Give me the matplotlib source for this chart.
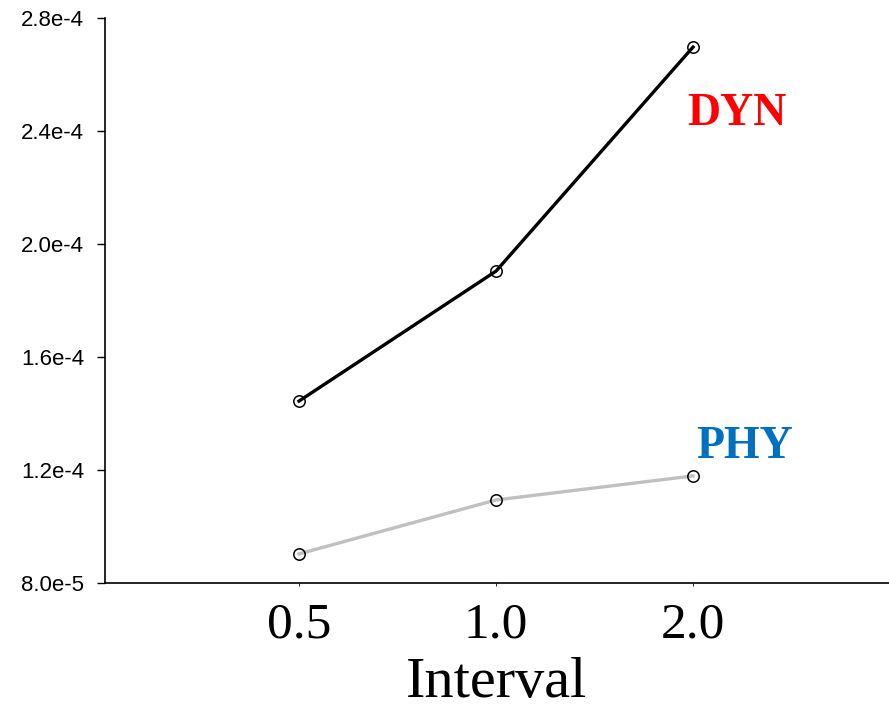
import matplotlib
matplotlib.use("Agg")
import matplotlib.pyplot as plt

categories = ["0.5", "1.0", "2.0"]
dyn_values = [1.444e-4, 1.904e-4, 2.697e-4]
phy_values = [0.903e-4, 1.094e-4, 1.179e-4]
ytick_values = [8.0e-5, 1.2e-4, 1.6e-4, 2.0e-4, 2.4e-4, 2.8e-4]
ytick_labels = ["8.0e-5", "1.2e-4", "1.6e-4", "2.0e-4", "2.4e-4", "2.8e-4"]

fig = plt.figure(figsize=(8.89, 7.10), dpi=100)
ax = fig.add_axes([105/889, 1-583/710, 1-105/889, (583-18)/710])

x = list(range(len(categories)))
ax.plot(x, phy_values, color="#c0c0c0", lw=2.4, zorder=2)
ax.plot(x, dyn_values, color="black", lw=2.4, zorder=2)
ax.plot(x, phy_values, ls="none", marker="o", ms=8.2,
        mfc="none", mec="black", mew=1.1, zorder=3)
ax.plot(x, dyn_values, ls="none", marker="o", ms=8.2,
        mfc="none", mec="black", mew=1.1, zorder=3)

ax.set_xlim(-0.985, 2.995)
ax.set_ylim(8.0e-5, 2.8e-4)
ax.set_xticks(x)
ax.set_xticklabels(categories, family="Liberation Serif", fontsize=37)
ax.set_yticks(ytick_values)
ax.set_yticklabels(ytick_labels, family="Liberation Sans", fontsize=16)
ax.tick_params(axis="y", length=6, width=1.0, direction="out", pad=9)
ax.tick_params(axis="x", length=2, width=0.6, direction="out", pad=12)

for s in ["top", "right"]:
    ax.spines[s].set_visible(False)
for s in ["left", "bottom"]:
    ax.spines[s].set_linewidth(1.2)

ax.set_xlabel("Interval", family="Liberation Serif", fontsize=42, labelpad=5.5)

ax.text(737/889, 1-114/710, "DYN", transform=fig.transFigure, color="#ff0000",
        family="Liberation Serif", fontweight="bold", fontsize=33,
        ha="center", va="center")
ax.text(745/889, 1-447/710, "PHY", transform=fig.transFigure, color="#0070c0",
        family="Liberation Serif", fontweight="bold", fontsize=33,
        ha="center", va="center")

fig.savefig("out.png", dpi=100)
